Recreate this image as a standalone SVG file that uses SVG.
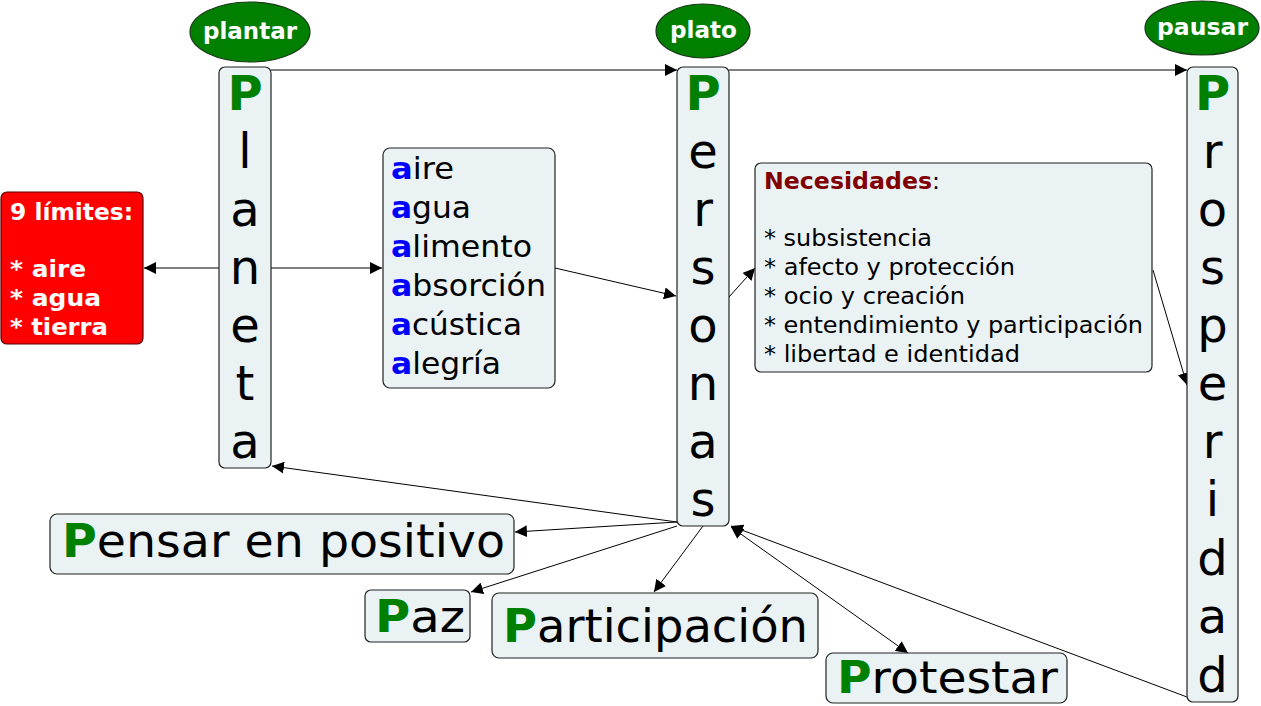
<svg xmlns="http://www.w3.org/2000/svg" width="1261" height="706" viewBox="0 0 1261 706">
<defs>
<marker id="ah" viewBox="0 0 10 10" refX="10" refY="5" markerWidth="12" markerHeight="12" markerUnits="userSpaceOnUse" orient="auto-start-reverse">
<path d="M0,0 L10,5 L0,10 z" fill="#000"/>
</marker>
<style>
text{font-family:"DejaVu Sans",Verdana,sans-serif;}
.box{fill:#EAF2F4;stroke:#222;stroke-width:1.2;}
.ell{fill:#007F00;stroke:#1a3a1a;stroke-width:1.2;}
.et{fill:#fff;font-weight:bold;font-size:23px;}
.big{font-size:48px;text-anchor:middle;fill:#000;}
.g{fill:#008000;font-weight:bold;}
.bl{fill:#0000FF;font-weight:bold;}
.rt{fill:#fff;font-weight:bold;font-size:23px;}
.at{font-size:31px;}
.nt{font-size:23px;}
.con line{stroke:#000;stroke-width:1;fill:none;marker-end:url(#ah);}
</style>
</defs>
<rect width="1261" height="706" fill="#fff"/>

<g class="con">
<line x1="271" y1="70" x2="677" y2="70"/>
<line x1="729" y1="70" x2="1187" y2="70"/>
<line x1="219" y1="268" x2="144" y2="268"/>
<line x1="271" y1="268" x2="382" y2="268"/>
<line x1="555" y1="268" x2="676" y2="296"/>
<line x1="729" y1="297" x2="755" y2="268"/>
<line x1="1153" y1="270" x2="1187" y2="385"/>
<line x1="677" y1="522" x2="272" y2="466"/>
<line x1="677" y1="522" x2="515" y2="532"/>
<line x1="677" y1="526" x2="471" y2="592"/>
<line x1="703" y1="526" x2="654" y2="592"/>
<line x1="908" y1="653" x2="731" y2="527" style="marker-start:url(#ah)"/>
<line x1="1187" y1="697" x2="731" y2="526"/>
</g>

<g id="plantar"><ellipse class="ell" cx="250" cy="32" rx="60" ry="30"/><text class="et" x="203" y="39" textLength="94" lengthAdjust="spacingAndGlyphs">plantar</text></g>
<g id="plato"><ellipse class="ell" cx="703" cy="31" rx="47" ry="27"/><text class="et" x="670" y="38" textLength="67" lengthAdjust="spacingAndGlyphs">plato</text></g>
<g id="pausar"><ellipse class="ell" cx="1202" cy="28" rx="57" ry="27"/><text class="et" x="1157" y="35" textLength="91" lengthAdjust="spacingAndGlyphs">pausar</text></g>

<g id="planeta"><rect class="box" x="219" y="67" width="52" height="401" rx="6"/>
<text class="big" x="245" y="110"><tspan class="g">P</tspan><tspan x="245" dy="58">l</tspan><tspan x="245" dy="58">a</tspan><tspan x="245" dy="58">n</tspan><tspan x="245" dy="58">e</tspan><tspan x="245" dy="58">t</tspan><tspan x="245" dy="58">a</tspan></text></g>

<g id="personas"><rect class="box" x="677" y="67" width="52" height="459" rx="6"/>
<text class="big" x="703" y="110"><tspan class="g">P</tspan><tspan x="703" dy="58">e</tspan><tspan x="703" dy="58">r</tspan><tspan x="703" dy="58">s</tspan><tspan x="703" dy="58">o</tspan><tspan x="703" dy="58">n</tspan><tspan x="703" dy="58">a</tspan><tspan x="703" dy="58">s</tspan></text></g>

<g id="prosperidad"><rect class="box" x="1187" y="67" width="51" height="635" rx="6"/>
<text class="big" x="1212.5" y="110"><tspan class="g">P</tspan><tspan x="1212.5" dy="58">r</tspan><tspan x="1212.5" dy="58">o</tspan><tspan x="1212.5" dy="58">s</tspan><tspan x="1212.5" dy="58">p</tspan><tspan x="1212.5" dy="58">e</tspan><tspan x="1212.5" dy="58">r</tspan><tspan x="1212.5" dy="58">i</tspan><tspan x="1212.5" dy="58.5">d</tspan><tspan x="1212.5" dy="58.5">a</tspan><tspan x="1212.5" dy="58.5">d</tspan></text></g>

<g id="limites"><rect x="1" y="192" width="142" height="152" rx="6" fill="#FF0000" stroke="#5a0000" stroke-width="1.2"/>
<text class="rt" x="10" y="220" textLength="123" lengthAdjust="spacingAndGlyphs">9 límites:</text>
<text class="rt" x="10" y="277" textLength="76" lengthAdjust="spacingAndGlyphs">* aire</text>
<text class="rt" x="10" y="306" textLength="91" lengthAdjust="spacingAndGlyphs">* agua</text>
<text class="rt" x="10" y="335" textLength="98" lengthAdjust="spacingAndGlyphs">* tierra</text></g>

<g id="aire"><rect class="box" x="383" y="148" width="172" height="240" rx="7"/>
<text class="at" x="391" y="179" textLength="63" lengthAdjust="spacingAndGlyphs"><tspan class="bl">a</tspan>ire</text>
<text class="at" x="391" y="218" textLength="80" lengthAdjust="spacingAndGlyphs"><tspan class="bl">a</tspan>gua</text>
<text class="at" x="391" y="257" textLength="141" lengthAdjust="spacingAndGlyphs"><tspan class="bl">a</tspan>limento</text>
<text class="at" x="391" y="296" textLength="155" lengthAdjust="spacingAndGlyphs"><tspan class="bl">a</tspan>bsorción</text>
<text class="at" x="391" y="335" textLength="131" lengthAdjust="spacingAndGlyphs"><tspan class="bl">a</tspan>cústica</text>
<text class="at" x="391" y="374" textLength="110" lengthAdjust="spacingAndGlyphs"><tspan class="bl">a</tspan>legría</text></g>

<g id="necesidades"><rect class="box" x="755" y="163" width="397" height="209" rx="6"/>
<text class="nt" x="764" y="189" textLength="176" lengthAdjust="spacingAndGlyphs"><tspan fill="#800000" font-weight="bold">Necesidades</tspan>:</text>
<text class="nt" x="764" y="246" textLength="168" lengthAdjust="spacingAndGlyphs">* subsistencia</text>
<text class="nt" x="764" y="275" textLength="251" lengthAdjust="spacingAndGlyphs">* afecto y protección</text>
<text class="nt" x="764" y="304" textLength="201" lengthAdjust="spacingAndGlyphs">* ocio y creación</text>
<text class="nt" x="764" y="333" textLength="379" lengthAdjust="spacingAndGlyphs">* entendimiento y participación</text>
<text class="nt" x="764" y="362" textLength="256" lengthAdjust="spacingAndGlyphs">* libertad e identidad</text></g>

<g id="pensar"><rect class="box" x="50" y="514" width="464" height="60" rx="7"/>
<text x="62" y="557" font-size="46px" textLength="443" lengthAdjust="spacingAndGlyphs"><tspan class="g">P</tspan>ensar en positivo</text></g>

<g id="paz"><rect class="box" x="365" y="590" width="105" height="52" rx="6"/>
<text x="375" y="632" font-size="44px" textLength="90" lengthAdjust="spacingAndGlyphs"><tspan class="g">P</tspan>az</text></g>

<g id="participacion"><rect class="box" x="492" y="593" width="326" height="65" rx="7"/>
<text x="503" y="642" font-size="47px" textLength="305" lengthAdjust="spacingAndGlyphs"><tspan class="g">P</tspan>articipación</text></g>

<g id="protestar"><rect class="box" x="826" y="653" width="241" height="50" rx="7"/>
<text x="837" y="693" font-size="44px" textLength="221" lengthAdjust="spacingAndGlyphs"><tspan class="g">P</tspan>rotestar</text></g>
</svg>
